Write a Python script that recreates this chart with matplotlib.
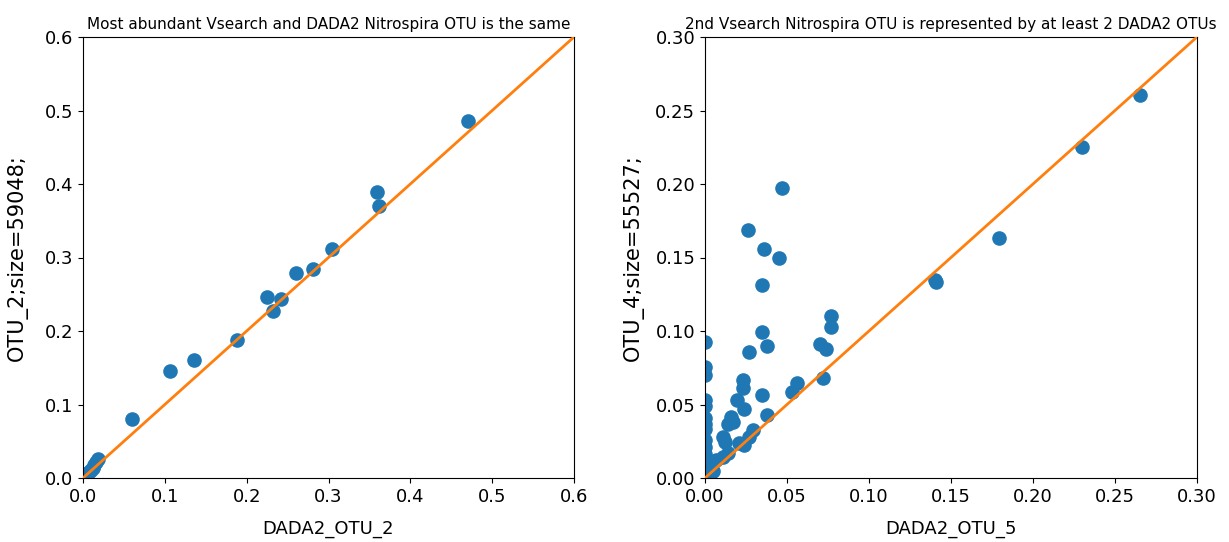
import matplotlib
matplotlib.use("Agg")
import matplotlib.pyplot as plt
import numpy as np

# left panel: most abundant OTU
dada2_otu_2 = [0.470, 0.359, 0.362, 0.304, 0.281, 0.260, 0.225, 0.242, 0.232,
               0.188, 0.136, 0.106, 0.060, 0.018, 0.016, 0.014, 0.012, 0.010,
               0.008, 0.006, 0.004, 0.003, 0.002, 0.001, 0.0]
otu_2 = [0.486, 0.389, 0.370, 0.311, 0.284, 0.279, 0.246, 0.244, 0.227,
         0.188, 0.161, 0.145, 0.080, 0.026, 0.022, 0.018, 0.014, 0.011,
         0.009, 0.007, 0.005, 0.003, 0.002, 0.001, 0.0]

# right panel: 2nd vsearch OTU
dada2_otu_5 = [0.265, 0.230, 0.179, 0.140, 0.141, 0.077, 0.077, 0.070, 0.074,
               0.072, 0.056, 0.053, 0.047, 0.045, 0.026, 0.036, 0.035, 0.035,
               0.038, 0.027, 0.035, 0.038, 0.023, 0.023, 0.0195, 0.024, 0.016,
               0.014, 0.017, 0.029, 0.027, 0.011, 0.012, 0.021, 0.024, 0.011,
               0.014, 0.007, 0.005, 0.003, 0.002, 0.001,
               0.0, 0.0, 0.0, 0.0, 0.0, 0.0, 0.0, 0.0, 0.0, 0.0, 0.0, 0.0, 0.0, 0.0]
otu_4 = [0.2605, 0.225, 0.163, 0.135, 0.133, 0.110, 0.103, 0.091, 0.088,
         0.068, 0.0646, 0.0585, 0.197, 0.150, 0.169, 0.156, 0.131, 0.099,
         0.090, 0.086, 0.0565, 0.043, 0.067, 0.061, 0.053, 0.047, 0.0415,
         0.037, 0.038, 0.0327, 0.028, 0.028, 0.0245, 0.024, 0.0225, 0.014,
         0.017, 0.012, 0.005, 0.003, 0.002, 0.001,
         0.0925, 0.0755, 0.070, 0.053, 0.049, 0.041, 0.037, 0.033, 0.026,
         0.021, 0.016, 0.012, 0.006, 0.002]

plt.rcParams['font.family'] = ['DejaVu Sans']

fig = plt.figure(figsize=(12.29, 5.42), dpi=100)
ax1 = fig.add_axes([83 / 1229, 64 / 542, 491 / 1229, 441 / 542])
ax2 = fig.add_axes([705 / 1229, 64 / 542, 492 / 1229, 441 / 542])

ax1.scatter(dada2_otu_2, otu_2, s=90, color='#1f77b4', zorder=2)
ax1.plot([0, 0.6], [0, 0.6], color='#ff7f0e', lw=2, zorder=3)
ax1.set_xlim(0, 0.6)
ax1.set_ylim(0, 0.6)
ax1.set_title("Most abundant Vsearch and DADA2 Nitrospira OTU is the same",
              fontsize=11, pad=6)
ax1.set_xlabel("DADA2_OTU_2", fontsize=13, labelpad=10)
ax1.set_ylabel("OTU_2;size=59048;", fontsize=15, labelpad=12)

ax2.scatter(dada2_otu_5, otu_4, s=90, color='#1f77b4', zorder=2)
ax2.plot([0, 0.3], [0, 0.3], color='#ff7f0e', lw=2, zorder=3)
ax2.set_xlim(0, 0.3)
ax2.set_ylim(0, 0.3)
ax2.set_title("2nd Vsearch Nitrospira OTU is represented by at least 2 DADA2 OTUs",
              fontsize=11, pad=6)
ax2.set_xlabel("DADA2_OTU_5", fontsize=13, labelpad=10)
ax2.set_ylabel("OTU_4;size=55527;", fontsize=15, labelpad=8)
ax2.set_xticks(np.arange(0, 0.31, 0.05))
ax2.set_yticks(np.arange(0, 0.31, 0.05))
ax2.xaxis.set_major_formatter(matplotlib.ticker.FormatStrFormatter('%.2f'))
ax2.yaxis.set_major_formatter(matplotlib.ticker.FormatStrFormatter('%.2f'))

for ax in (ax1, ax2):
    ax.tick_params(labelsize=13)

fig.savefig("out.png", dpi=100)
